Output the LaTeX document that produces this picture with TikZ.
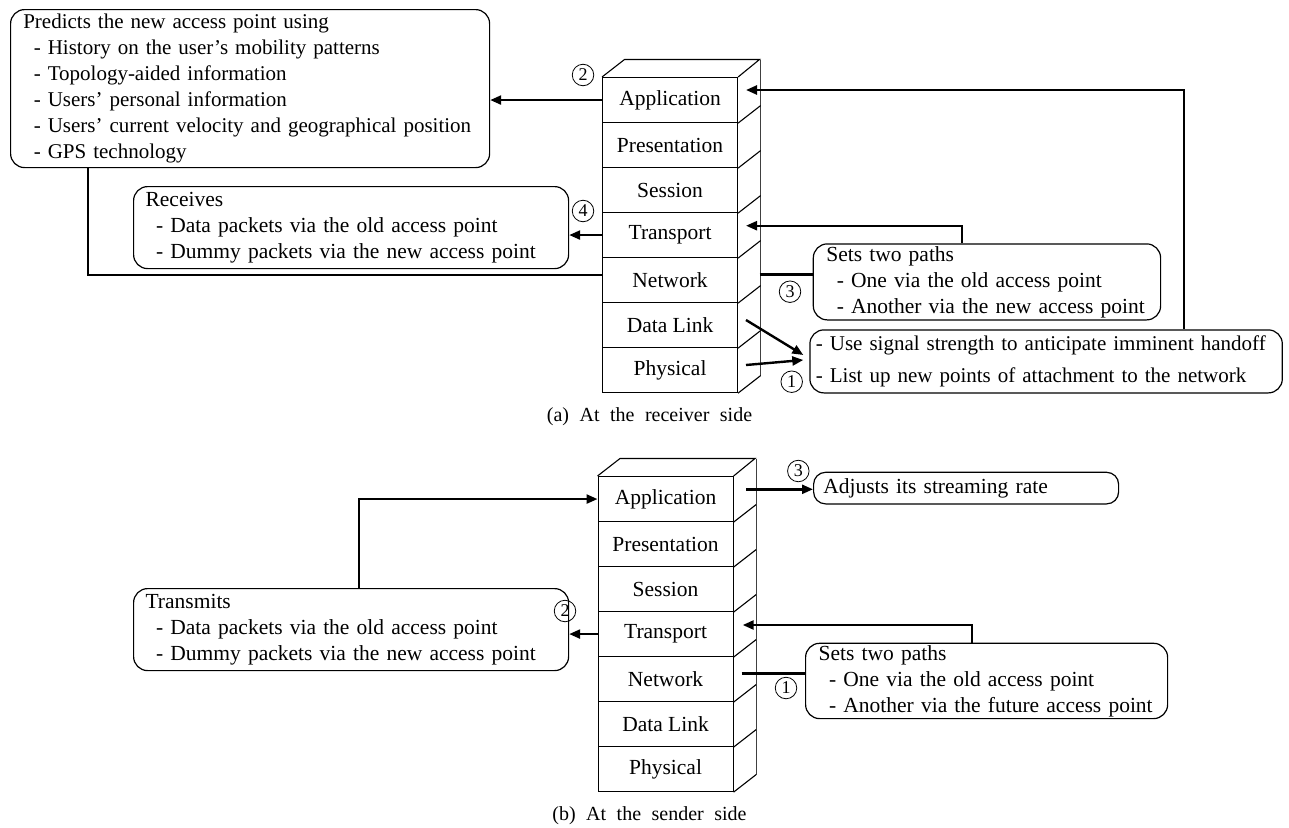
\documentclass[tikz,border=0pt]{standalone}
\usepackage{fontspec}
\setmainfont{Liberation Serif}
\usetikzlibrary{arrows.meta,calc}
\newcommand\osistack[3]{%
  \foreach \lname [count=\i] in {Application,Presentation,Session,Transport,Network,Data Link,Physical}
    \node[layer, anchor=north west] (#1\i) at (#2,{#3+45*(\i-1)}) {\lname};
  \draw[stackline] (#11.north west) -- ++(22.5,-17.5) -- ++(135,0) -- (#11.north east);
  \draw[stackline,draw=black!75] ($(#11.north east)+(22.5,-17.5)$) -- ($(#17.south east)+(22.5,-17.5)$);
  \foreach \i in {1,...,7} \draw[stackline] (#1\i.south east) -- ++(22.5,-17.5);
}
\newcommand\sub[1]{\mbox{\hspace*{10.5pt}- #1}}
\newcommand\capsp{\hspace{10.5pt}}
\begin{document}
\begin{tikzpicture}[x=1pt,y=-1pt,
  txt/.style={font=\fontsize{21.5}{26}\selectfont},
  stackline/.style={line width=1.1pt},
  layer/.style={draw, line width=1.1pt, minimum width=135pt, minimum height=45pt, inner sep=0pt, txt},
  infobox/.style={draw, line width=1.2pt, rounded corners=14pt, align=left, anchor=north west, inner ysep=0pt, txt},
  conn/.style={line width=2.4pt},
  arr/.style={conn, -{Triangle[length=11pt,width=9pt]}},
  num/.style={circle, draw, line width=0.8pt, minimum size=21.5pt, inner sep=0pt, font=\fontsize{18}{18}\selectfont},
  captext/.style={font=\fontsize{20}{22}\selectfont, anchor=base},
]
\useasboundingbox (0,0) rectangle (1289,827);

% ---------- (a) receiver side ----------
\osistack{a}{602}{77}

\node[infobox, inner xsep=12.7pt, text width=453.6pt, minimum height=158pt, font=\fontsize{21}{26}\selectfont] (pred) at (10,9)
  {\mbox{Predicts the new access point using}\\
   \sub{History on the user's mobility patterns}\\
   \sub{Topology-aided information}\\
   \sub{Users' personal information}\\
   \sub{Users' current velocity and geographical position}\\
   \sub{GPS technology}};

\node[infobox, inner xsep=12pt, text width=411pt, minimum height=82pt] (recv) at (133,186)
  {\mbox{Receives}\\
   \sub{Data packets via the old access point}\\
   \sub{Dummy packets via the new access point}};

\node[infobox, inner xsep=13pt, text width=321.3pt, minimum height=76pt] (setsA) at (812.7,243.3)
  {\mbox{Sets two paths}\\
   \sub{One via the old access point}\\
   \sub{Another via the new access point}};

\node[infobox, inner xsep=6pt, text width=460.4pt, minimum height=63pt, font=\fontsize{21}{26}\selectfont] (use) at (809.3,329.3)
  {\mbox{- Use signal strength to anticipate imminent handoff}\\[6pt]
   \mbox{- List up new points of attachment to the network}};

\draw[arr] (a1.west) -- (a1.west -| pred.east);
\coordinate (p1) at (88,0);
\draw[conn] (pred.south -| p1) |- ([yshift=5pt]a5.west);
\draw[arr] (a4.west) -- (a4.west -| recv.east);

\coordinate (aNetR) at (759.5,274.3);
\draw[conn] (aNetR) -- (aNetR -| setsA.west);
\coordinate (aTraR) at (746,225.7);
\coordinate (sA) at (961.7,0);
\draw[arr] (setsA.north -| sA) |- (aTraR);
\coordinate (aAppR) at (746,90);
\coordinate (uA) at (1184,0);
\draw[arr] (use.north -| uA) |- (aAppR);
\coordinate (aDLR) at (746,320);
\coordinate (aPhR) at (746,365);
\coordinate (u1) at (803.3,355);
\coordinate (u2) at (803.3,360);
\draw[arr] (aDLR) -- (u1);
\draw[arr] (aPhR) -- (u2);

\node[num] (na2) at (583,75) {2};
\node[num] (na4) at (583,211) {4};
\node[num] (na3) at (790,291.7) {3};
\node[num] (na1) at (791.7,381.7) {1};

\node[captext] (capa) at (649.5,421) {(a)\capsp At\capsp the\capsp receiver\capsp side};

% ---------- (b) sender side ----------
\osistack{b}{597.5}{476}

\node[infobox, inner xsep=12pt, text width=411pt, minimum height=82pt] (trans) at (133,588)
  {\mbox{Transmits}\\
   \sub{Data packets via the old access point}\\
   \sub{Dummy packets via the new access point}};

\node[infobox, inner xsep=9.7pt, text width=285.6pt, minimum height=31.6pt, rounded corners=12pt] (adj) at (813,471.7)
  {\mbox{Adjusts its streaming rate}};

\node[infobox, inner xsep=13pt, text width=336pt, minimum height=75.3pt] (setsB) at (805,642.7)
  {\mbox{Sets two paths}\\
   \sub{One via the old access point}\\
   \sub{Another via the future access point}};

\coordinate (tX) at (359,0);
\draw[arr] (trans.north -| tX) |- (b1.west);
\draw[arr] (b4.west) -- (b4.west -| trans.east);
\coordinate (bAppR) at (746,489.3);
\draw[arr] (bAppR) -- (bAppR -| adj.west);
\coordinate (bTraR) at (742.7,625);
\coordinate (sB) at (971.7,0);
\draw[arr] (setsB.north -| sB) |- (bTraR);
\coordinate (bNetR) at (741.7,673.3);
\draw[conn] (bNetR) -- (bNetR -| setsB.west);

\node[num] (nb3) at (798.3,471) {3};
\node[num] (nb2) at (565,611) {2};
\node[num] (nb1) at (786,688) {1};

\node[captext] (capb) at (649.5,820) {(b)\capsp At\capsp the\capsp sender\capsp side};
\end{tikzpicture}
\end{document}
